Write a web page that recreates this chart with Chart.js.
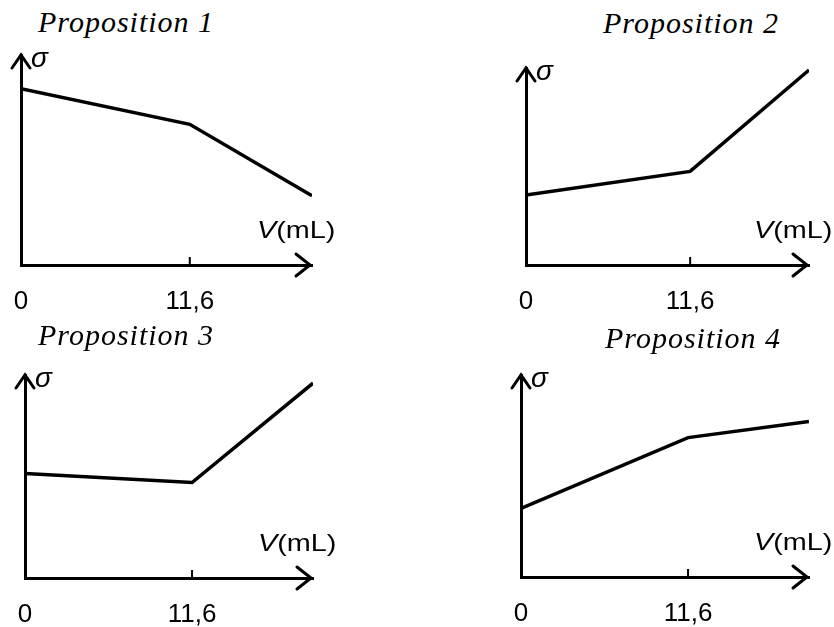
<!DOCTYPE html>
<html>
<head>
<meta charset="utf-8">
<script src="https://cdn.jsdelivr.net/npm/chart.js@4.4.0/dist/chart.umd.min.js"></script>
<style>
  body { margin: 0; background: #fff; }
  #wrap { position: relative; width: 834px; height: 627px; overflow: hidden; background: #fff; }
  #wrap canvas { position: absolute; }
  .title { position: absolute; font: italic 30px "Liberation Serif", "Times New Roman", serif; letter-spacing: 1px; line-height: 30px; color: #000; white-space: nowrap; }
</style>
</head>
<body>
<div id="wrap"></div>
<script>
// volume added (mL): start, equivalence point, end of sketch
const volumes = [0, 11.6, 20];
const xTickValues = [0, 11.6];
const xTickLabels = ['0', '11,6'];
const titles = ['Proposition 1', 'Proposition 2', 'Proposition 3', 'Proposition 4'];

// conductivity sigma, arbitrary units on a 0-10 scale
const sigma1 = [8.4, 6.7, 3.3];
const sigma2 = [3.55, 4.75, 9.9];
const sigma3 = [5.15, 4.7, 9.6];
const sigma4 = [3.4, 6.9, 7.7];
const series = [sigma1, sigma2, sigma3, sigma4];

// chart area of each small plot on the page
const boxes = [
  { left: 21, top: 55, right: 312, bottom: 265, titleX: 38, titleY: 7 },
  { left: 526, top: 68, right: 809, bottom: 265, titleX: 603, titleY: 8 },
  { left: 25, top: 375, right: 313, bottom: 578, titleX: 38, titleY: 320 },
  { left: 521, top: 375, right: 809, bottom: 577, titleX: 605, titleY: 323 }
];

const PAD = { left: 40, right: 30, top: 20, bottom: 10 };
const X_AXIS_H = 70;
const SANS = '"Liberation Sans", Arial, sans-serif';

// arrows, sigma, V(mL) and the little tick at 11,6
const axisDecor = {
  id: 'axisDecor',
  afterDraw(chart) {
    const { ctx, chartArea: a } = chart;
    const xs = chart.scales.x;
    ctx.save();
    ctx.strokeStyle = '#000';
    ctx.fillStyle = '#000';
    ctx.lineWidth = 3;
    ctx.lineCap = 'round';

    ctx.beginPath();
    ctx.moveTo(a.left - 9, a.top + 13);
    ctx.lineTo(a.left, a.top);
    ctx.lineTo(a.left + 9, a.top + 13);
    ctx.stroke();

    ctx.beginPath();
    ctx.moveTo(a.right - 16, a.bottom - 11);
    ctx.lineTo(a.right - 2, a.bottom);
    ctx.lineTo(a.right - 16, a.bottom + 11);
    ctx.stroke();

    const px = xs.getPixelForValue(xTickValues[1]);
    ctx.lineWidth = 2;
    ctx.lineCap = 'butt';
    ctx.beginPath();
    ctx.moveTo(px, a.bottom);
    ctx.lineTo(px, a.bottom - 8);
    ctx.stroke();

    ctx.textBaseline = 'alphabetic';
    ctx.textAlign = 'left';
    ctx.font = 'italic 28px ' + SANS;
    ctx.fillText('σ', a.left + 10, a.top + 12);

    // V(mL), slightly widened like the scanned original
    ctx.save();
    ctx.translate(a.right - 55, a.bottom - 27);
    ctx.scale(1.2, 1);
    ctx.font = 'italic 24px ' + SANS;
    ctx.fillText('V', 0, 0);
    const vw = ctx.measureText('V').width;
    ctx.font = '24px ' + SANS;
    ctx.fillText('(mL)', vw, 0);
    ctx.restore();

    ctx.restore();
  }
};

const wrap = document.getElementById('wrap');

boxes.forEach((b, i) => {
  const t = document.createElement('div');
  t.className = 'title';
  t.style.left = b.titleX + 'px';
  t.style.top = b.titleY + 'px';
  t.textContent = titles[i];
  wrap.appendChild(t);

  const cv = document.createElement('canvas');
  const w = (b.right - b.left) + PAD.left + PAD.right;
  const h = (b.bottom - b.top) + PAD.top + X_AXIS_H + PAD.bottom;
  cv.width = w;
  cv.height = h;
  cv.style.left = (b.left - PAD.left) + 'px';
  cv.style.top = (b.top - PAD.top) + 'px';
  wrap.appendChild(cv);

  new Chart(cv.getContext('2d'), {
    type: 'line',
    data: {
      datasets: [{
        data: volumes.map((v, k) => ({ x: v, y: series[i][k] })),
        borderColor: '#000',
        borderWidth: 3.5,
        pointRadius: 0,
        tension: 0,
        fill: false
      }]
    },
    options: {
      responsive: false,
      animation: false,
      devicePixelRatio: 1,
      layout: { padding: PAD },
      plugins: { legend: { display: false }, tooltip: { enabled: false } },
      scales: {
        x: {
          type: 'linear',
          min: 0,
          max: 20,
          grid: { display: false },
          border: { display: true, color: '#000', width: 3 },
          afterBuildTicks: s => { s.ticks = xTickValues.map(v => ({ value: v })); },
          afterFit: s => { s.height = X_AXIS_H; },
          ticks: {
            color: '#000',
            padding: 13,
            maxRotation: 0,
            autoSkip: false,
            font: { family: SANS, size: 26 },
            callback: (v, idx) => xTickLabels[idx]
          }
        },
        y: {
          type: 'linear',
          min: 0,
          max: 10,
          grid: { display: false },
          border: { display: true, color: '#000', width: 3 },
          ticks: { display: false },
          afterFit: s => { s.width = 0; }
        }
      }
    },
    plugins: [axisDecor]
  });
});
</script>
</body>
</html>
